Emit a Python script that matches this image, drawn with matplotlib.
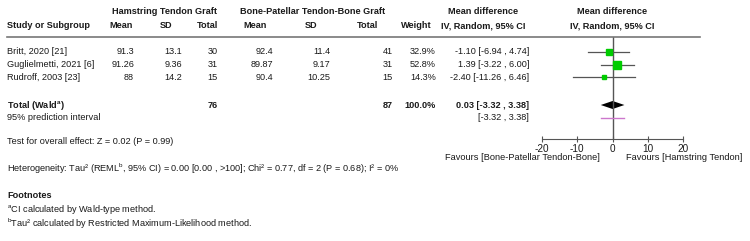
import matplotlib
matplotlib.use("Agg")
import matplotlib.pyplot as plt

plt.rcParams['font.family'] = ['Liberation Sans', 'DejaVu Sans']
plt.rcParams['mathtext.fontset'] = 'custom'
plt.rcParams['mathtext.rm'] = 'Liberation Sans'
plt.rcParams['mathtext.bf'] = 'Liberation Sans:bold'
plt.rcParams['axes.unicode_minus'] = False

# data
studies = ['Britt, 2020 [21]', 'Guglielmetti, 2021 [6]', 'Rudroff, 2003 [23]']
ht_mean = [91.3, 91.26, 88]
ht_sd = [13.1, 9.36, 14.2]
ht_n = [30, 31, 15]
bp_mean = [92.4, 89.87, 90.4]
bp_sd = [11.4, 9.17, 10.25]
bp_n = [41, 31, 15]
weight = [32.9, 52.8, 14.3]
md = [-1.10, 1.39, -2.40]
md_lo = [-6.94, -3.22, -11.26]
md_hi = [4.74, 6.00, 6.46]
tot_n = [76, 87]
tot_md, tot_lo, tot_hi = 0.03, -3.32, 3.38
pi_lo, pi_hi = -3.32, 3.38
xticks = [-20, -10, 0, 10, 20]

W, H = 750, 241
fig = plt.figure(figsize=(W / 100, H / 100), dpi=100)
tab = fig.add_axes([0, 0, 1, 1])
tab.set_xlim(0, W)
tab.set_ylim(H, 0)
tab.axis('off')

fs = 6.6
tc = '#1a1a1a'
def t(x, y, s, ha='left', bold=False, **kw):
    tab.text(x, y, s, ha=ha, va='center', fontsize=fs, color=tc,
             fontweight='bold' if bold else 'normal', **kw)

# headers
t(165, 12, 'Hamstring Tendon Graft', ha='center', bold=True)
t(313, 12, 'Bone-Patellar Tendon-Bone Graft', ha='center', bold=True)
t(483, 12, 'Mean difference', ha='center', bold=True)
t(612, 12, 'Mean difference', ha='center', bold=True)
t(7, 26, 'Study or Subgroup', bold=True)
t(133, 26, 'Mean', ha='right', bold=True)
t(166, 26, 'SD', ha='center', bold=True)
t(218, 26, 'Total', ha='right', bold=True)
t(267, 26, 'Mean', ha='right', bold=True)
t(311, 26, 'SD', ha='center', bold=True)
t(378, 26, 'Total', ha='right', bold=True)
t(416, 26, 'Weight', ha='center', bold=True)
t(483, 26, 'IV, Random, 95% CI', ha='center', bold=True)
t(612, 26, 'IV, Random, 95% CI', ha='center', bold=True)
tab.plot([7, 700], [37, 37], color='#777777', lw=1.2)

rows = [52, 64.5, 77]
for i, y in enumerate(rows):
    t(7, y, studies[i])
    t(134, y, f'{ht_mean[i]:g}', ha='right')
    t(182, y, f'{ht_sd[i]:g}', ha='right')
    t(218, y, f'{ht_n[i]}', ha='right')
    t(273, y, f'{bp_mean[i]:g}', ha='right')
    t(330, y, f'{bp_sd[i]:g}', ha='right')
    t(393, y, f'{bp_n[i]}', ha='right')
    t(436, y, f'{weight[i]:.1f}%', ha='right')
    t(529, y, f'{md[i]:.2f} [{md_lo[i]:.2f} , {md_hi[i]:.2f}]', ha='right')

yt, yp = 105, 118
t(7, yt, r'Total (Wald$^{\mathbf{a}}$)', bold=True)
t(218, yt, f'{tot_n[0]}', ha='right', bold=True)
t(393, yt, f'{tot_n[1]}', ha='right', bold=True)
t(436, yt, '100.0%', ha='right', bold=True)
t(529, yt, f'{tot_md:.2f} [{tot_lo:.2f} , {tot_hi:.2f}]', ha='right', bold=True)
t(7, yp, '95% prediction interval')
t(529, yp, f'[{pi_lo:.2f} , {pi_hi:.2f}]', ha='right')

t(7, 141, 'Test for overall effect: Z = 0.02 (P = 0.99)')
t(7, 169, r'Heterogeneity: Tau² (REML$^{\mathrm{b}}$, 95% CI) = 0.00 [0.00 , >100]; '
          'Chi² = 0.77, df = 2 (P = 0.68); I² = 0%')
t(7, 196, 'Footnotes', bold=True)
t(7, 210, r'$^{\mathrm{a}}$CI calculated by Wald-type method.')
t(7, 224, r'$^{\mathrm{b}}$Tau² calculated by Restricted Maximum-Likelihood method.')

# forest panel
x0, x1 = 542, 683
ax = fig.add_axes([x0 / W, 0, (x1 - x0) / W, 1])
ax.set_xlim(-20, 20)
ax.set_ylim(H, 0)
ax.patch.set_visible(False)
for s in ['top', 'left', 'right']:
    ax.spines[s].set_visible(False)
ax.spines['bottom'].set_position(('data', 139))
ax.spines['bottom'].set_color('#555555')
ax.set_yticks([])
ax.set_xticks(xticks)
ax.tick_params(axis='x', direction='inout', length=5, width=0.8, color='#555555',
               labelsize=7.2, labelcolor=tc, pad=1)
ax.vlines(0, 37, 139, color='#555555', lw=1)

for i, y in enumerate(rows):
    ax.plot([md_lo[i], md_hi[i]], [y, y], color='#555555', lw=0.9, clip_on=False)
    side = 1.5 + 0.11 * weight[i]
    ax.plot(md[i], y, marker='s', ms=side * 0.72, color='#00cc00', mec='#00cc00', lw=0,
            clip_on=False)

ax.fill([tot_lo, tot_md, tot_hi, tot_md], [yt, yt - 4, yt, yt + 4], color='black', lw=0)
ax.plot([pi_lo, pi_hi], [yp, yp], color='#cc77cc', lw=1)

ax.text(-3.5, 157.5, 'Favours [Bone-Patellar Tendon-Bone]', ha='right', va='center',
        fontsize=6.7, color=tc)
ax.text(3.7, 157.5, 'Favours [Hamstring Tendon]', ha='left', va='center',
        fontsize=6.7, color=tc, clip_on=False)

fig.savefig('out.png', dpi=100)
